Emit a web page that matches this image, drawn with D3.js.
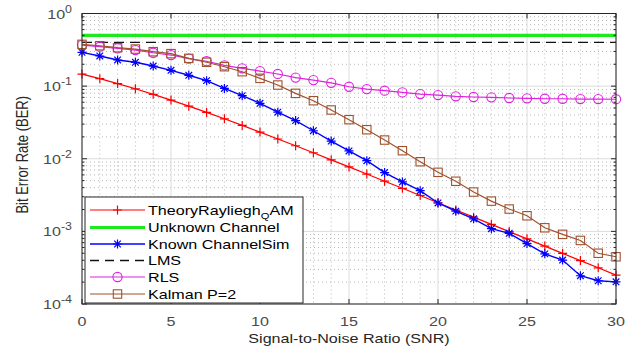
<!DOCTYPE html>
<html>
<head>
<meta charset="utf-8">
<script src="https://cdn.jsdelivr.net/npm/d3@7"></script>
<style>
  html, body { margin: 0; padding: 0; background: #fff; }
  svg { display: block; font-family: "Liberation Sans", Arial, sans-serif; }
</style>
</head>
<body>
<svg id="chart" width="641" height="352"></svg>
<script>
// SNR values (dB) for every simulated point
const snr = [0,1,2,3,4,5,6,7,8,9,10,11,12,13,14,15,16,17,18,19,20,21,22,23,24,25,26,27,28,29,30];

// Theoretical BER over a Rayleigh channel
const theoryBer = [0.1464,0.1267,0.1085,0.0919,0.0771,0.0642,0.0530,0.0435,0.0355,0.0288,
  0.0233,0.0187,0.0151,0.0121,0.00966,0.00772,0.00616,0.00491,0.00392,0.00312,
  0.00248,0.00197,0.00157,0.00125,0.000993,0.000789,0.000627,0.000498,0.000396,0.000315,0.000250];

// Receiver without channel knowledge
const unknownBer = [0.5,0.5,0.5,0.5,0.5,0.5,0.5,0.5,0.5,0.5,0.5,0.5,0.5,0.5,0.5,0.5,
  0.5,0.5,0.5,0.5,0.5,0.5,0.5,0.5,0.5,0.5,0.5,0.5,0.5,0.5,0.5];

// Simulated receiver with perfect channel knowledge
const knownBer = [0.292,0.26,0.229,0.213,0.189,0.165,0.141,0.119,0.093,0.0738,
  0.058,0.0438,0.0335,0.0243,0.0175,0.0128,0.0094,0.00645,0.00479,0.00363,
  0.00246,0.0019,0.00149,0.00109,0.00094,0.00068,0.00049,0.000403,0.000245,0.000209,0.000202];

// LMS equaliser
const lmsBer = [0.4,0.4,0.4,0.4,0.4,0.4,0.4,0.4,0.4,0.4,0.4,0.4,0.4,0.4,0.4,0.4,
  0.4,0.4,0.4,0.4,0.4,0.4,0.4,0.4,0.4,0.4,0.4,0.4,0.4,0.4,0.4];

// RLS equaliser
const rlsBer = [0.368,0.349,0.331,0.314,0.288,0.268,0.239,0.22,0.193,0.176,
  0.161,0.147,0.131,0.121,0.111,0.098,0.091,0.0865,0.082,0.0778,
  0.0754,0.0724,0.0708,0.070,0.0686,0.068,0.067,0.067,0.0664,0.0664,0.066];

// Kalman filter estimator, P = 2
const kalmanBer = [0.376,0.36,0.338,0.324,0.298,0.28,0.241,0.213,0.185,0.158,
  0.128,0.1035,0.0795,0.063,0.0469,0.0345,0.0251,0.0181,0.0129,0.0091,
  0.0065,0.0049,0.00348,0.00261,0.00203,0.00164,0.00112,0.00091,0.00075,0.0005,0.000447];

const xTicks = [0,5,10,15,20,25,30];
const yTickExps = [0,-1,-2,-3,-4];

const seriesNames = ["TheoryRayliegh_QAM","Unknown Channel","Known ChannelSim","LMS","RLS","Kalman P=2"];

const svg = d3.select("#chart");
const margin = { left: 82, right: 25, top: 13.5, bottom: 48 };
const W = 641, H = 352;
const x = d3.scaleLinear().domain([0, 30]).range([margin.left, W - margin.right]);
const y = d3.scaleLog().domain([1e-4, 1]).range([H - margin.bottom, margin.top]);

const x0 = x.range()[0], x1 = x.range()[1];
const yTop = y.range()[1], yBot = y.range()[0];

// Text in this figure is drawn slightly wide
const STRETCH = 1.24;
function label(parent, px, py, size, anchor, fill, rotate) {
  const g = parent.append("g")
    .attr("transform", `translate(${px},${py}) scale(${STRETCH},1)` + (rotate ? ` rotate(${rotate})` : ""));
  return g.append("text").attr("x", 0).attr("y", 0).attr("font-size", size)
    .attr("text-anchor", anchor).attr("fill", fill);
}

// Minor grid (dotted)
const minorY = [];
for (let e = -4; e < 0; e++) for (let m = 2; m <= 9; m++) minorY.push(m * Math.pow(10, e));
const minorX = d3.range(1, 30).filter(v => v % 5 !== 0);
const grid = svg.append("g");
grid.selectAll(".my").data(minorY).join("line")
  .attr("x1", x0).attr("x2", x1).attr("y1", d => y(d)).attr("y2", d => y(d))
  .attr("stroke", "#b8b8b8").attr("stroke-width", 1).attr("stroke-dasharray", "1,3");
grid.selectAll(".mx").data(minorX).join("line")
  .attr("x1", d => x(d)).attr("x2", d => x(d)).attr("y1", yTop).attr("y2", yBot)
  .attr("stroke", "#b8b8b8").attr("stroke-width", 1).attr("stroke-dasharray", "1,3");
// Major grid
grid.selectAll(".gy").data(yTickExps.map(e => Math.pow(10, e))).join("line")
  .attr("x1", x0).attr("x2", x1).attr("y1", d => y(d)).attr("y2", d => y(d))
  .attr("stroke", "#dcdcdc").attr("stroke-width", 1);
grid.selectAll(".gx").data(xTicks).join("line")
  .attr("x1", d => x(d)).attr("x2", d => x(d)).attr("y1", yTop).attr("y2", yBot)
  .attr("stroke", "#dcdcdc").attr("stroke-width", 1);

// Series
const series = [
  { name: seriesNames[0], vals: theoryBer, color: "#ff0000", width: 1.2, marker: "plus" },
  { name: seriesNames[1], vals: unknownBer, color: "#1ee81e", width: 3.2, marker: null },
  { name: seriesNames[2], vals: knownBer, color: "#0000ff", width: 1.4, marker: "star" },
  { name: seriesNames[3], vals: lmsBer, color: "#111111", width: 1.3, marker: null, dash: "10,6" },
  { name: seriesNames[4], vals: rlsBer, color: "#e020e0", width: 1.2, marker: "circle" },
  { name: seriesNames[5], vals: kalmanBer, color: "#a0522d", width: 1.2, marker: "square" }
];

function drawMarker(g, type, color) {
  if (type === "plus") {
    g.append("path").attr("d", "M-4.5,0H4.5M0,-4.5V4.5").attr("stroke", color).attr("stroke-width", 1.2).attr("fill", "none");
  } else if (type === "star") {
    g.append("path").attr("d", "M-4.5,0H4.5M0,-4.5V4.5M-3.3,-3.3L3.3,3.3M-3.3,3.3L3.3,-3.3")
      .attr("stroke", color).attr("stroke-width", 1.2).attr("fill", "none");
  } else if (type === "circle") {
    g.append("circle").attr("r", 4.6).attr("stroke", color).attr("stroke-width", 1.1).attr("fill", "none");
  } else if (type === "square") {
    g.append("rect").attr("x", -4.2).attr("y", -4.2).attr("width", 8.4).attr("height", 8.4)
      .attr("stroke", color).attr("stroke-width", 1.1).attr("fill", "none");
  }
}

const line = d3.line().x(d => x(d[0])).y(d => y(d[1]));
const plot = svg.append("g");
series.forEach(s => {
  const pts = snr.map((v, k) => [v, s.vals[k]]);
  plot.append("path").datum(pts).attr("d", line)
    .attr("fill", "none").attr("stroke", s.color).attr("stroke-width", s.width)
    .attr("stroke-dasharray", s.dash || null);
  if (s.marker) {
    pts.forEach(p => {
      const g = plot.append("g").attr("transform", `translate(${x(p[0])},${y(p[1])})`);
      drawMarker(g, s.marker, s.color);
    });
  }
});

// Axes box with inward ticks on all four sides
const axisColor = "#262626";
const ax = svg.append("g");
ax.append("rect").attr("x", x0).attr("y", yTop).attr("width", x1 - x0).attr("height", yBot - yTop)
  .attr("fill", "none").attr("stroke", axisColor).attr("stroke-width", 1);
xTicks.forEach(t => {
  ax.append("line").attr("x1", x(t)).attr("x2", x(t)).attr("y1", yBot).attr("y2", yBot - 5).attr("stroke", axisColor);
  ax.append("line").attr("x1", x(t)).attr("x2", x(t)).attr("y1", yTop).attr("y2", yTop + 5).attr("stroke", axisColor);
});
yTickExps.forEach(e => {
  const yy = y(Math.pow(10, e));
  ax.append("line").attr("x1", x0).attr("x2", x0 + 5).attr("y1", yy).attr("y2", yy).attr("stroke", axisColor);
  ax.append("line").attr("x1", x1).attr("x2", x1 - 5).attr("y1", yy).attr("y2", yy).attr("stroke", axisColor);
});
minorY.forEach(v => {
  const yy = y(v);
  ax.append("line").attr("x1", x0).attr("x2", x0 + 2.5).attr("y1", yy).attr("y2", yy).attr("stroke", axisColor);
  ax.append("line").attr("x1", x1).attr("x2", x1 - 2.5).attr("y1", yy).attr("y2", yy).attr("stroke", axisColor);
});

// Tick labels
const tickColor = "#4a4a4a";
const xl = svg.append("g");
xTicks.forEach(t => {
  label(xl, x(t), yBot + 22, 13, "middle", tickColor).text(t);
});
const yl = svg.append("g");
yTickExps.forEach(e => {
  const t = label(yl, x0 - 10, y(Math.pow(10, e)) + 5, 13, "end", tickColor);
  t.append("tspan").text("10");
  t.append("tspan").attr("dy", -6).attr("font-size", 10).text(String(e));
});

// Axis titles
label(svg, (x0 + x1) / 2, 343, 13, "middle", "#262626").text("Signal-to-Noise Ratio (SNR)");
label(svg, 28, (yTop + yBot) / 2 - 4, 13, "middle", "#262626", -90).text("Bit Error Rate (BER)");

// Legend
const lg = svg.append("g");
lg.append("rect").attr("x", 85).attr("y", 197).attr("width", 218).attr("height", 106)
  .attr("fill", "#fff").attr("stroke", "#262626").attr("stroke-width", 1);
const rowY = [210, 227.5, 244, 260.5, 277, 294];
series.forEach((s, i) => {
  const yy = rowY[i];
  lg.append("line").attr("x1", 90).attr("x2", 145).attr("y1", yy).attr("y2", yy)
    .attr("stroke", s.color).attr("stroke-width", s.width).attr("stroke-dasharray", s.dash ? "9,6" : null);
  if (s.marker) {
    const g = lg.append("g").attr("transform", `translate(117.5,${yy})`);
    drawMarker(g, s.marker, s.color);
  }
  const t = label(lg, 148, yy + 4.5, 13, "start", "#000");
  if (i === 0) {
    t.append("tspan").text("TheoryRayliegh");
    t.append("tspan").attr("dy", 4).attr("font-size", 9).text("Q");
    t.append("tspan").attr("dy", -4).text("AM");
  } else {
    t.text(s.name);
  }
});
</script>
</body>
</html>
